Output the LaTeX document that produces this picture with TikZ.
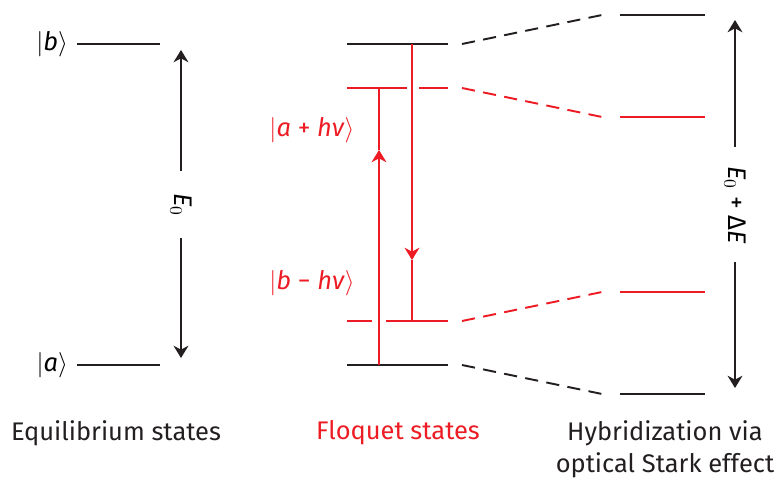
\documentclass[tikz,border=0pt]{standalone}
\usepackage{fontspec}
\setmainfont{Fira Sans}
\usetikzlibrary{arrows.meta}
\definecolor{floq}{RGB}{237,28,36}
\definecolor{lvl}{RGB}{35,31,32}

\begin{document}
\begin{tikzpicture}[x=0.02cm,y=-0.02cm,>={Stealth[length=7pt,width=8.5pt]},
  level/.style={line width=1.15pt},
  trans/.style={line width=1.1pt},
  link/.style={line width=1.1pt,dash pattern=on 7.5pt off 4.75pt},
  lab/.style={font=\fontsize{14.5}{18}\selectfont,inner sep=1pt}]

\useasboundingbox (0,0) rectangle (778,479);

% equilibrium states
\coordinate (bL) at (77,44);  \coordinate (bR) at (160,44);
\coordinate (aL) at (77,365); \coordinate (aR) at (160,365);
\draw[level,lvl] (bL) -- (bR);
\draw[level,lvl] (aL) -- (aR);
\node[lab,anchor=east] (ketb) at (70,44) {$|$\textit{b}$\rangle$};
\node[lab,anchor=east] (keta) at (70,365) {$|$\textit{a}$\rangle$};

\node[lab,rotate=-90] (Ezero) at (181,205) {\textit{E}$_0$};
\coordinate (EzTop) at (181,50);
\coordinate (EzBot) at (181,358);
\coordinate (EzGapT) at (181,171);
\coordinate (EzGapB) at (181,238);
\draw[trans,lvl,->] (EzGapT) -- (EzTop);
\draw[trans,lvl,->] (EzGapB) -- (EzBot);

% Floquet states
\def\xl{347}
\def\xr{448}
\def\xup{379}
\def\xdn{412}
\coordinate (mbL) at (\xl,44);  \coordinate (mbR) at (\xr,44);
\coordinate (maL) at (\xl,365); \coordinate (maR) at (\xr,365);
\draw[level,lvl] (mbL) -- (mbR);
\draw[level,lvl] (maL) -- (maR);
\draw[level,floq] (\xl,88) -- (\xdn-5,88);
\draw[level,floq] (\xdn+7,88) -- (\xr,88);
\draw[level,floq] (\xl,321) -- (\xup-7,321);
\draw[level,floq] (\xup+7,321) -- (\xr,321);

\coordinate (upA) at (\xup,365);
\coordinate (upM) at (\xup,150);
\coordinate (upB) at (\xup,88);
\draw[trans,floq,->] (upA) -- (upM);
\draw[trans,floq] (upM) -- (upB);
\coordinate (dnA) at (\xdn,44);
\coordinate (dnM) at (\xdn,260);
\coordinate (dnB) at (\xdn,321);
\draw[trans,floq,->] (dnA) -- (dnM);
\draw[trans,floq] (dnM) -- (dnB);

\node[lab,floq] (ketapl) at (312,130) {$|$\textit{a} + \textit{hν}$\rangle$};
\node[lab,floq] (ketbmi) at (312,283) {$|$\textit{b} − \textit{hν}$\rangle$};

% hybridization via optical Stark effect
\def\hl{620}
\def\hr{705}
\draw[level,lvl] (\hl,15) -- (\hr,15);
\draw[level,floq] (\hl,117) -- (\hr,117);
\draw[level,floq] (\hl,292) -- (\hr,292);
\draw[level,lvl] (\hl,394) -- (\hr,394);

\draw[link,lvl] (462,44) -- (602,15);
\draw[link,floq] (462,88) -- (602,117);
\draw[link,floq] (462,321) -- (602,292);
\draw[link,lvl] (462,365) -- (602,394);

\node[lab,rotate=-90] (Edelta) at (735,205) {\textit{E}$_0$ + Δ\textit{E}};
\coordinate (EdTop) at (735,20);
\coordinate (EdBot) at (735,388);
\coordinate (EdGapT) at (735,147);
\coordinate (EdGapB) at (735,262);
\draw[trans,lvl,->] (EdGapT) -- (EdTop);
\draw[trans,lvl,->] (EdGapB) -- (EdBot);

% captions
\node[lab,lvl] (capeq) at (116,433) {Equilibrium states};
\node[lab,floq] (capfl) at (398,433) {Floquet states};
\node[lab,lvl,align=center] (caphy) at (665,449) {Hybridization via\\optical Stark effect};

\end{tikzpicture}
\end{document}
